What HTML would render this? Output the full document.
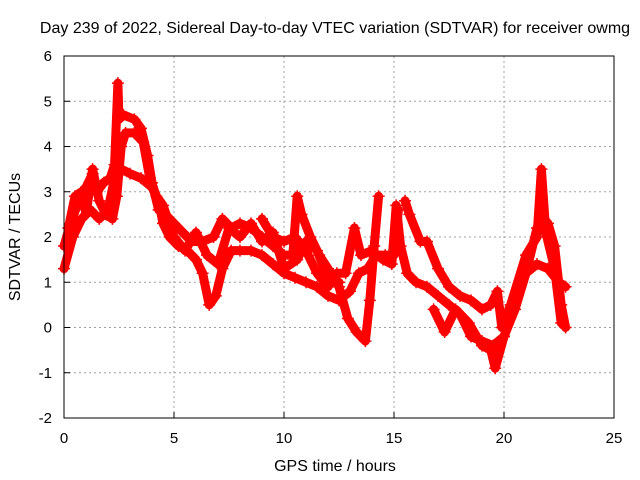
<!DOCTYPE html>
<html><head><meta charset="utf-8"><style>
body{margin:0;background:#fff}
svg{display:block;font-family:"Liberation Sans",sans-serif}
</style></head><body>
<svg id="c" width="640" height="480">
<text x="335" y="33" text-anchor="middle" font-size="16">Day 239 of 2022, Sidereal Day-to-day VTEC variation (SDTVAR) for receiver owmg</text>
<text x="0" y="0" transform="translate(20,237) rotate(-90)" text-anchor="middle" font-size="16">SDTVAR / TECUs</text>
<text x="335" y="471" text-anchor="middle" font-size="16">GPS time / hours</text>
<g id="grid"></g><g id="marks"></g>
<rect x="64" y="56" width="550" height="362" fill="none" stroke="#000"/>
</svg>
<script>
const xTicks=[0,5,10,15,20,25];
const yTicks=[-2,-1,0,1,2,3,4,5,6];
const trackA=[[0,1.8],[0.3,2.3],[0.6,2.7],[1,3.1],[1.3,3.4],[1.5,3.0],[1.8,3.2],[2.1,3.3],[2.3,3.6],[2.45,5.4],[2.5,4.6],[2.7,4.7],[3.2,4.6],[3.5,4.4],[3.8,3.8],[4.0,3.2],[4.3,2.6],[4.6,2.5],[5.0,2.3],[5.4,2.1],[5.8,1.9],[6.3,1.9],[6.8,2.0],[7.2,2.4],[7.6,2.2],[8.0,2.3],[8.5,2.2],[9.0,2.0],[9.5,1.8],[10.0,1.6],[10.4,1.6],[10.6,2.9],[10.8,2.5],[11.2,2.0],[11.6,1.6],[12.0,1.3],[12.5,0.9],[12.9,0.2],[13.3,-0.1],[13.7,-0.3],[13.9,0.6],[14.1,1.8],[14.3,2.9]];
const trackB=[[0,1.3],[0.4,2.0],[0.8,2.4],[1.2,2.6],[1.6,2.4],[2.0,2.6],[2.3,3.3],[2.6,3.5],[3.0,3.4],[3.5,3.3],[4.0,3.1],[4.3,2.8],[4.5,2.3],[4.8,2.0],[5.2,1.8],[5.6,1.7],[6.0,1.5],[6.3,1.2],[6.6,0.5],[6.9,0.7],[7.2,1.3],[7.6,1.7],[8.0,1.7],[8.5,1.7],[9.0,1.6],[9.5,1.4],[10.0,1.2],[10.5,1.1],[11.0,1.0],[11.5,0.9],[12.0,0.7],[12.5,0.6],[13.0,0.8],[13.4,1.2],[13.8,1.3],[14.2,1.6],[14.6,1.6],[15.0,1.6],[15.2,2.6]];
const trackC=[[9.0,2.4],[9.5,2.0],[10.0,1.9],[10.5,2.0],[11.0,1.7],[11.5,1.2],[12.0,0.9],[12.4,1.2],[12.8,1.2],[13.2,2.2],[13.5,1.6],[14.0,1.7],[14.5,1.5],[14.9,1.4],[15.1,2.7],[15.3,1.8],[15.6,1.2],[16.0,1.0],[16.5,0.9],[17.0,0.7],[17.5,0.5],[18.0,0.3],[18.5,-0.2],[19.0,-0.3],[19.5,-0.4],[20.0,-0.2],[20.5,0.4],[21.0,1.2],[21.5,2.2],[21.8,2.4],[22.0,2.3],[22.3,1.8],[22.6,0.5],[22.8,0.0]];
const trackD=[[15.5,2.8],[15.7,2.5],[16.2,1.9],[16.5,1.9],[17.0,1.3],[17.5,0.9],[18.0,0.7],[18.5,0.6],[19.0,0.4],[19.4,0.5],[19.7,0.8],[19.9,0.0],[20.3,0.5],[21.0,1.6],[21.5,2.0],[21.7,3.5],[21.9,2.1],[22.3,1.3],[22.6,0.1]];
const trackE=[[16.8,0.4],[17.3,-0.1],[17.8,0.4],[18.4,0.1],[19.0,-0.4],[19.4,-0.5],[19.6,-0.9],[20.0,-0.2],[20.5,0.6],[21.0,1.2],[21.5,1.4],[22.0,1.3],[22.5,1.0],[22.8,0.9]];
const trackF=[[0.2,2.2],[0.5,2.9],[0.8,3.0],[1.0,2.5],[1.3,3.5],[1.6,2.8],[1.9,2.5],[2.2,2.4],[2.4,2.9],[2.6,4.0],[2.8,4.3],[3.2,4.3],[3.6,4.1],[3.9,3.3],[4.2,2.9],[4.5,2.7],[5.0,2.0],[5.5,1.7],[6.0,2.1],[6.5,1.6],[7.0,1.4],[7.5,2.2],[8.0,2.0],[8.5,2.3],[9.0,1.9],[9.5,2.1],[10.0,1.3],[10.6,1.5],[11.0,1.9],[11.5,1.7],[12.0,1.1],[12.5,1.0]];
const tracks=[trackA,trackB,trackC,trackD,trackE,trackF];
const X=h=>64+h*22, Y=v=>56+(6-v)*45.25;
const ns="http://www.w3.org/2000/svg";
const grid=document.getElementById('grid'), marks=document.getElementById('marks');
function mk(t,a,p){const e=document.createElementNS(ns,t);for(const k in a)e.setAttribute(k,a[k]);p.appendChild(e);return e;}
xTicks.forEach(t=>{
 if(t>0&&t<25){const l=mk('line',{x1:X(t),x2:X(t),y1:56,y2:418,stroke:'#a0a0a0','stroke-dasharray':'2,3'},grid);
 
 }
 const tx=mk('text',{x:X(t),y:443,'text-anchor':'middle','font-size':15},grid);tx.textContent=t;
 
 
 mk('line',{x1:X(t),x2:X(t),y1:418,y2:412,stroke:'#000'},grid);
});
yTicks.forEach(t=>{
 if(t>-2&&t<6){const l=mk('line',{x1:64,x2:614,y1:Y(t),y2:Y(t),stroke:'#a0a0a0','stroke-dasharray':'2,3'},grid);
 
 }
 const tx=mk('text',{x:52,y:Y(t)+5,'text-anchor':'end','font-size':15},grid);tx.textContent=t;
 
 
 mk('line',{x1:64,x2:70,y1:Y(t),y2:Y(t),stroke:'#000'},grid);
});
tracks.forEach((tr,i)=>{
 const pl=mk('polyline',{points:tr.map(p=>X(p[0])+','+Y(p[1])).join(' '),fill:'none',stroke:'#f00','stroke-width':9,'stroke-linejoin':'round','stroke-linecap':'round'},marks);
 
 
 tr.forEach(p=>{const x=X(p[0]),y=Y(p[1]);
  const m=mk('path',{d:`M${x-6},${y}h12M${x},${y-6}v12`,stroke:'#f00','stroke-width':1.5},marks);
  
  });
});
</script>
</body></html>
